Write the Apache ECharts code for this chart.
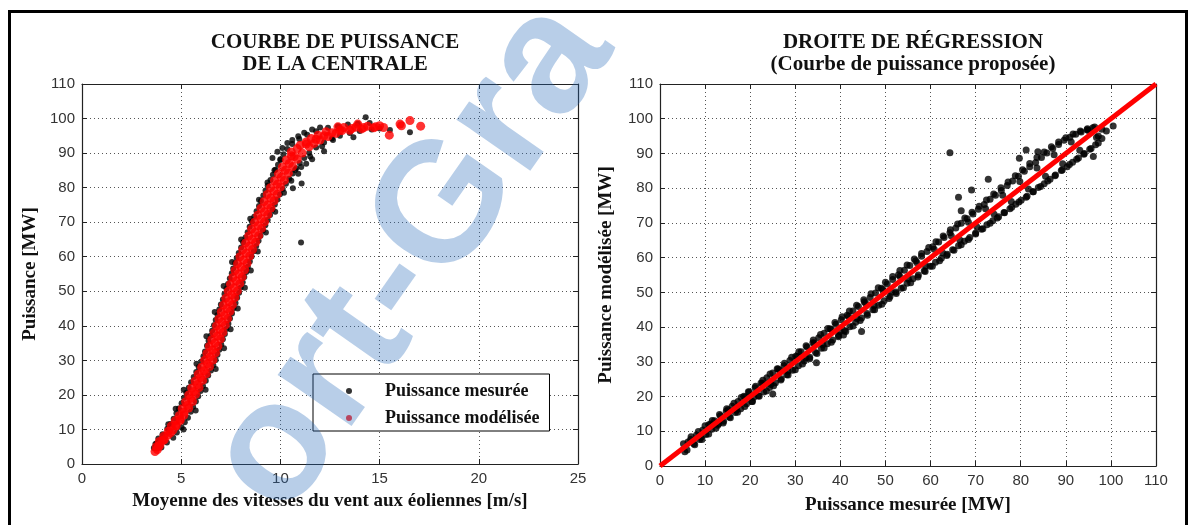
<!DOCTYPE html>
<html>
<head>
<meta charset="utf-8">
<script src="https://cdn.jsdelivr.net/npm/echarts@6/dist/echarts.min.js"></script>
<style>
html,body{margin:0;padding:0;background:#fff;}
#c{width:1191px;height:525px;}
</style>
</head>
<body>
<div id="c"></div>
<script>
// ---- tick labels ----
const speedTicks = [0, 5, 10, 15, 20, 25];
const powerTicks = [0, 10, 20, 30, 40, 50, 60, 70, 80, 90, 100, 110];

// ---- left chart: wind speed [m/s] vs measured power [MW] ----
const measuredCurve = [
  [3.76,6.0],[3.7,5.8],[3.62,4.6],[3.85,7.4],[4.06,8.6],[4.3,10.2],[4.46,11.6],[4.62,13.1],[4.76,14.7],[4.88,16.1],
  [5.02,17.6],[5.14,19.2],[5.26,20.6],[5.38,22.1],[5.5,23.7],[5.63,25.2],[5.76,26.6],[5.88,28.1],[6.02,29.7],[6.12,31.2],
  [6.2,32.6],[6.3,34.2],[6.38,35.7],[6.48,37.1],[6.56,38.6],[6.65,40.2],[6.74,41.7],[6.83,43.1],[6.92,44.7],[7.0,46.2],
  [7.1,47.6],[7.18,49.2],[7.28,50.7],[7.36,52.1],[7.45,53.7],[7.55,55.2],[7.62,56.6],[7.72,58.2],[7.8,59.6],[7.9,61.1],
  [8.02,62.7],[8.12,64.2],[8.24,65.6],[8.35,67.1],[8.45,68.7],[8.56,70.2],[8.68,71.6],[8.8,73.2],[8.92,74.7],[9.02,76.1],
  [9.14,77.7],[9.25,79.2],[9.36,80.6],[9.5,82.2],[9.62,83.7],[9.75,85.2],[9.88,86.6],[10.0,88.2],[10.15,89.7],[10.35,91.2],
  [10.6,92.6],[10.95,94.1],[11.35,95.3],[11.8,96.3],[12.4,97.3],[12.9,97.8],[13.4,98.3],[13.9,98.5],[14.5,98.7],[14.3,100.4],
  [9.6,88.6],[9.85,90.4],[10.1,91.5],[10.35,92.9],[10.6,93.8],[10.9,94.9],[11.2,95.9],[11.6,96.8],[12.0,97.4],
  [4.0,4.8],[4.28,6.2],[4.6,7.6],[4.78,9.1],[5.02,10.6],[5.18,12.1],[5.34,13.4],[5.48,15.1],[5.6,16.6],[5.74,18.1],
  [5.86,19.6],[5.98,21.1],[6.1,22.6],[6.24,24.1],[6.36,25.6],[6.5,27.1],[6.62,28.6],[6.74,30.1],[6.83,31.6],[6.92,33.1],
  [7.02,34.6],[7.1,36.1],[7.2,37.6],[7.28,39.1],[7.38,40.6],[7.46,42.1],[7.56,43.6],[7.64,45.1],[7.74,46.6],[7.82,48.1],
  [7.92,49.6],[8.0,51.1],[8.1,52.6],[8.18,54.1],[8.28,55.6],[8.36,57.1],[8.46,58.6],[8.55,60.1],[8.66,61.6],[8.78,63.1],
  [8.9,64.6],[9.0,66.1],[9.12,67.6],[9.24,69.1],[9.36,70.6],[9.48,72.1],[9.6,73.6],[9.72,75.1],[9.85,76.6],[9.98,78.1],
  [10.12,79.6],[10.28,81.1],[10.45,82.6],[10.62,84.1],[10.8,85.6],[10.98,87.1],[11.2,88.6],[11.45,90.1],[11.8,91.6],[12.2,93.1],
  [12.6,94.2],[13.0,95.0],[13.5,95.8],[14.0,96.4],[14.6,96.8],[13.68,94.6],
  [11.04,64.1],[10.63,79.8],[11.07,81.2],[10.74,85.1],[10.9,84.0],[11.3,86.9],[11.6,88.2],[12.2,90.5],[15.52,96.7],[16.53,96.0],
  [15.0,97.1],
  [5.13,21.5],[5.77,29.0],[6.27,37.0],[6.69,44.0],[7.14,51.5],[7.56,58.5],[8.02,65.0],[8.48,71.0],[8.92,76.5],[9.35,81.5],
  [9.7,85.0],[10.0,88.0],[4.35,11.5],[4.72,16.0],
  [5.12,10.0],[5.73,15.5],[6.23,21.5],[6.74,27.5],[7.16,33.5],[7.49,39.0],[7.85,45.0],[8.21,51.0],[8.51,56.0],[8.86,61.5],
  [9.27,67.0],[9.74,73.0],[10.18,78.5],[10.55,82.0],[11.05,86.0],[11.5,89.0],[12.1,92.0],[12.65,93.8]
];
// ---- left chart: wind speed [m/s] vs modelled power [MW] ----
const modelledCurve = [
  [3.68,3.6],[3.8,4.2],[3.75,5.0],[3.92,5.4],[3.9,6.5],[4.08,6.8],[4.12,8.0],[4.32,8.3],[4.35,9.5],[4.58,9.8],
  [4.5,11.0],[4.74,11.2],[4.7,12.5],[4.95,12.6],[4.9,14.0],[5.14,14.2],[5.05,16.0],[5.38,16.2],[5.22,18.0],[5.57,18.1],
  [5.38,20.0],[5.73,20.2],[5.53,22.0],[5.9,22.1],[5.7,24.0],[6.08,24.2],[5.86,26.0],[6.26,26.1],[6.03,28.0],[6.43,28.2],
  [6.18,30.0],[6.6,30.1],[6.3,32.0],[6.73,32.2],[6.42,34.0],[6.85,34.1],[6.54,36.0],[6.98,36.2],[6.66,38.0],[7.1,38.1],
  [6.78,40.0],[7.22,40.2],[6.9,42.0],[7.34,42.1],[7.02,44.0],[7.46,44.2],[7.13,46.0],[7.58,46.1],[7.25,48.0],[7.7,48.2],
  [7.37,50.0],[7.83,50.1],[7.48,52.0],[7.95,52.2],[7.6,54.0],[8.07,54.1],[7.72,56.0],[8.2,56.2],[7.84,58.0],[8.32,58.1],
  [7.96,60.0],[8.45,60.2],[8.1,62.0],[8.6,62.1],[8.25,64.0],[8.75,64.2],[8.4,66.0],[8.9,66.1],[8.55,68.0],[9.05,68.2],
  [8.7,70.0],[9.2,70.1],[8.86,72.0],[9.36,72.2],[9.02,74.0],[9.52,74.1],[9.18,76.0],[9.68,76.2],[9.34,78.0],[9.84,78.1],
  [9.5,80.0],[10.0,80.2],[9.7,82.0],[10.2,82.1],[9.9,84.0],[10.4,84.2],[10.1,86.0],[10.62,86.1],[10.3,88.0],[10.85,88.2],
  [10.55,89.2],[10.55,90.3],[11.1,90.0],[10.85,91.3],[11.0,92.3],[11.45,91.8],[11.3,93.2],[11.7,92.8],[11.55,94.2],[12.0,93.8],
  [11.9,95.2],[12.4,94.8],[12.3,96.2],[12.8,95.7],[13.0,96.6],[13.2,97.4],[13.5,96.6],[13.8,97.5],[14.1,97.0],[14.4,97.8],
  [14.7,97.3],[15.0,97.9],[15.2,97.4],[15.49,95.2],[16.03,98.4],[16.1,97.9],[16.53,99.4],[17.07,97.8],[13.9,98.4],[12.9,97.6],
  [3.85,5.0],[4.15,7.0],[4.46,9.0],[4.74,11.0],[4.95,13.0],[5.14,15.0],[5.31,17.0],[5.48,19.0],[5.64,21.0],[5.81,23.0],
  [5.98,25.0],[6.15,27.0],[6.32,29.0],[6.46,31.0],[6.58,33.0],[6.7,35.0],[6.82,37.0],[6.94,39.0],[7.06,41.0],[7.18,43.0],
  [7.3,45.0],[7.42,47.0],[7.54,49.0],[7.66,51.0],[7.78,53.0],[7.9,55.0],[8.02,57.0],[8.14,59.0],[8.27,61.0],[8.42,63.0],
  [8.57,65.0],[8.72,67.0],[8.87,69.0],[9.03,71.0],[9.19,73.0],[9.35,75.0],[9.51,77.0],[9.67,79.0],[9.85,81.0],[10.05,83.0],
  [10.25,85.0],[10.45,87.0],[10.7,89.0],[11.3,92.6],[11.8,94.0],[12.2,95.0],[12.6,95.9],[13.1,96.5],[13.6,97.1],[14.2,97.4],
  [14.8,97.6]
];

// ---- right chart: measured [MW] vs modelled [MW] ----
const regressionPoints = [
  [5.5,4.1],[6.2,6.9],[7.5,6.4],[8.1,8.9],[8.8,7.6],[9.5,10.4],[10.2,9.1],[10.8,11.9],[11.5,10.6],[12.1,13.0],
  [12.8,11.7],[13.4,14.5],[14.1,12.9],[14.7,15.8],[15.4,14.1],[16.0,17.2],[16.7,15.4],[17.3,18.6],[17.9,16.5],[18.6,20.1],
  [19.2,17.9],[19.8,21.3],[20.5,18.6],[21.1,22.5],[21.8,20.2],[22.4,23.9],[23.0,21.3],[23.7,25.4],[24.3,22.6],[25.0,20.7],
  [25.0,26.8],[25.6,24.0],[26.2,27.9],[26.9,25.1],[27.5,28.9],[28.1,26.3],[28.8,30.4],[29.4,27.6],[30.1,31.6],[30.7,28.9],
  [31.3,32.9],[32.0,30.2],[32.6,34.3],[33.2,31.3],[33.9,35.5],[34.7,29.7],[34.5,32.7],[35.2,36.9],[35.8,33.9],[36.4,38.2],
  [37.1,35.2],[37.7,39.5],[38.3,36.3],[39.0,40.8],[39.6,37.6],[40.7,37.7],[40.2,42.1],[40.9,39.0],[41.5,43.4],[42.1,40.1],
  [42.8,44.6],[43.4,41.4],[44.0,45.9],[44.7,38.7],[44.7,42.6],[45.3,47.3],[45.9,43.9],[46.6,48.5],[47.2,45.0],[47.8,49.8],
  [48.5,46.3],[49.1,51.2],[49.7,47.6],[50.4,52.4],[51.0,48.8],[51.6,53.7],[52.3,50.1],[52.9,55.1],[53.5,51.2],[54.2,56.4],
  [54.8,52.6],[55.4,57.7],[56.1,53.9],[56.7,59.1],[57.3,55.0],[58.0,60.4],[58.6,56.2],[59.2,61.8],[59.9,57.5],[60.5,63.1],
  [61.1,58.7],[61.8,64.5],[62.4,59.8],[63.0,65.8],[63.7,61.0],[64.3,90.2],[64.3,67.2],[64.9,62.3],[65.6,68.5],[66.2,77.4],
  [66.8,73.5],[66.2,63.4],[66.8,69.9],[67.5,64.7],[68.1,71.2],[69.1,79.5],[68.7,65.8],[69.4,72.6],[70.0,67.1],[70.6,73.9],
  [71.3,68.2],[71.9,75.3],[72.8,82.6],[72.5,69.5],[73.2,76.8],[73.8,70.6],[74.4,78.0],[75.1,71.8],[75.7,79.3],[76.3,73.0],
  [77.0,80.8],[77.6,74.1],[78.2,82.1],[78.9,75.4],[79.7,88.6],[79.5,83.4],[80.1,76.5],[81.2,91.0],[80.8,84.9],[81.4,77.7],
  [82.0,86.2],[82.7,79.0],[83.8,90.5],[83.3,87.4],[83.9,80.2],[84.6,88.8],[85.2,81.3],[85.8,90.1],[86.5,82.6],[87.1,91.4],
  [87.7,83.8],[88.4,92.6],[89.0,85.1],[89.6,93.8],[90.3,86.2],[90.9,94.7],[91.5,87.5],[92.2,95.5],[92.8,88.7],[93.4,96.2],
  [94.1,90.0],[94.7,96.8],[95.3,91.2],[96.1,89.1],[96.0,97.4],[96.6,92.5],[97.2,95.0],[98.0,94.3],[100.5,97.9],[99.0,96.5],
  [6.8,7.6],[9.1,8.3],[11.2,12.1],[13.0,12.2],[15.1,16.2],[17.0,16.1],[18.9,19.9],[20.8,19.8],[22.7,23.8],[24.6,23.5],
  [26.5,27.6],[28.4,27.3],[30.4,31.5],[32.3,31.1],[34.2,35.4],[36.1,34.9],[38.0,39.3],[39.9,38.7],[41.8,43.1],[43.7,42.5],
  [45.6,46.9],[47.5,46.2],[49.4,50.8],[51.3,50.0],[53.2,54.6],[55.1,53.8],[57.0,58.5],[58.9,57.6],[60.8,62.4],[62.7,61.3],
  [64.6,66.3],[66.5,65.1],[68.4,70.2],[70.3,68.8],[72.2,74.1],[74.1,72.5],[76.0,78.0],[77.9,76.2],[79.8,81.9],[81.7,79.8],
  [83.6,85.8],[85.5,83.4],[87.4,89.6],[89.3,87.0],[91.2,93.3],[93.1,90.9],[95.0,96.6],[96.8,94.6],
  [5.2,6.4],[6.0,4.6],[6.9,8.4],[7.7,6.1],[8.5,9.9],[9.3,7.6],[10.0,11.6],[10.8,9.2],[11.6,13.1],[12.4,10.9],
  [13.2,14.8],[14.0,12.4],[14.8,16.5],[15.6,13.9],[16.4,18.1],[17.2,15.5],[18.0,19.7],[18.8,17.1],[19.6,21.4],[20.4,18.6],
  [21.2,23.0],[22.0,20.1],[22.8,24.7],[23.6,21.6],[24.4,26.5],[25.2,23.1],[26.0,28.0],[26.8,24.8],[27.6,29.6],[28.4,26.2],
  [29.2,31.3],[30.0,27.7],[30.8,32.9],[31.6,29.4],[32.4,34.6],[33.2,30.9],[34.0,36.3],[34.8,32.4],[35.6,37.9],[36.4,34.0],
  [37.2,39.6],[38.0,35.6],[38.8,41.3],[39.6,37.2],[40.4,43.0],[41.2,38.7],[42.0,44.6],[42.8,40.3],[43.6,46.3],[44.4,41.9],
  [45.2,47.9],[46.0,43.4],[46.8,49.6],[47.6,45.0],[48.4,51.3],[49.2,46.6],[50.0,52.9],[50.8,48.2],[51.6,54.6],[52.4,49.7],
  [53.2,56.3],[54.0,51.3],[54.8,57.9],[55.6,52.8],[56.4,59.6],[57.2,54.4],[58.0,61.2],[58.8,56.0],[59.6,62.9],[60.4,57.5],
  [61.2,64.6],[62.0,59.1],[62.8,66.2],[63.6,60.6],[64.4,68.0],[65.2,62.1],[66.0,69.7],[66.8,63.7],[67.6,71.4],[68.4,65.2],
  [69.2,73.1],[70.0,66.8],[70.8,74.8],[71.6,68.3],[72.4,76.6],[73.2,69.9],[74.0,78.3],[74.8,71.4],[75.6,80.1],[76.4,72.9],
  [77.2,81.8],[78.0,74.5],[78.8,83.6],[79.6,76.0],[80.4,85.3],[81.2,77.4],[82.0,87.1],[82.8,79.0],[83.6,88.8],[84.4,80.5],
  [85.2,90.4],[86.0,82.1],[86.8,91.9],[87.6,83.6],[88.4,93.3],[89.2,85.2],[90.0,94.5],[90.8,86.8],[91.6,95.6],[92.4,88.3],
  [93.2,96.5],[94.0,89.8],[94.8,97.1],[95.6,91.4],[96.4,97.6],[97.2,93.0],[98.0,97.0]
];
const regressionLine = [[0, 0], [110, 110]];

const serif = '"Liberation Serif", "Times New Roman", serif';
const sans = '"Liberation Sans", Arial, sans-serif';

function valAxis(grid, ticks, pos, withLabel, name, nameGap) {
  const a = {
    type: 'value', gridIndex: grid, position: pos,
    min: ticks[0], max: ticks[ticks.length - 1], interval: ticks[1] - ticks[0],
    axisLine: { show: true, onZero: false, lineStyle: { color: '#222', width: 1.2 } },
    axisTick: { show: true, inside: true, length: 5, lineStyle: { color: '#222' } },
    axisLabel: { show: withLabel, color: '#333', fontFamily: sans, fontSize: 15, margin: 7 },
    splitLine: { show: withLabel, lineStyle: { color: '#555', type: [1, 3], width: 1 } }
  };
  if (name) {
    a.name = name; a.nameLocation = 'middle'; a.nameGap = nameGap;
    a.nameTextStyle = { fontFamily: serif, fontWeight: 'bold', fontSize: 19, color: '#111' };
  }
  return a;
}

const chart = echarts.init(document.getElementById('c'), null, { renderer: 'canvas' });
chart.setOption({
  animation: false,
  backgroundColor: '#fff',
  title: [
    { text: 'COURBE DE PUISSANCE\nDE LA CENTRALE', left: 330, top: 27, textAlign: 'center',
      textStyle: { fontFamily: serif, fontWeight: 'bold', fontSize: 21, lineHeight: 22, color: '#111' } },
    { text: 'DROITE DE RÉGRESSION\n(Courbe de puissance proposée)', left: 908, top: 27, textAlign: 'center',
      textStyle: { fontFamily: serif, fontWeight: 'bold', fontSize: 21, lineHeight: 22, color: '#111' } }
  ],
  grid: [
    { left: 82, right: 613, top: 84, bottom: 61 },
    { left: 660, right: 35, top: 84, bottom: 59 }
  ],
  xAxis: [
    valAxis(0, speedTicks, 'bottom', true, 'Moyenne des vitesses du vent aux éoliennes [m/s]', 28),
    valAxis(0, speedTicks, 'top', false),
    valAxis(1, powerTicks, 'bottom', true, 'Puissance mesurée [MW]', 30),
    valAxis(1, powerTicks, 'top', false)
  ],
  yAxis: [
    valAxis(0, powerTicks, 'left', true, 'Puissance [MW]', 42),
    valAxis(0, powerTicks, 'right', false),
    valAxis(1, powerTicks, 'left', true, 'Puissance modélisée [MW]', 44),
    valAxis(1, powerTicks, 'right', false)
  ],
  legend: {
    data: ['Puissance mesurée', 'Puissance modélisée'],
    orient: 'vertical', left: 313, top: 374,
    padding: [7, 10, 3, 33], itemGap: 7, itemWidth: 6, itemHeight: 6,
    icon: 'circle', borderColor: '#000', borderWidth: 1, backgroundColor: '#fff',
    textStyle: { fontFamily: serif, fontWeight: 'bold', fontSize: 18, lineHeight: 20, color: '#111', padding: [0, 0, 0, 28] }
  },
  series: [
    { name: 'Puissance mesurée', type: 'scatter', xAxisIndex: 0, yAxisIndex: 0, data: measuredCurve,
      symbol: 'circle', symbolSize: 6, itemStyle: { color: '#000' }, z: 2 },
    { name: 'Puissance modélisée', type: 'scatter', xAxisIndex: 0, yAxisIndex: 0, data: modelledCurve,
      symbol: 'circle', symbolSize: 9, itemStyle: { color: '#ff0000' }, z: 3 },
    { name: 'Points mesurés', type: 'scatter', xAxisIndex: 2, yAxisIndex: 2, data: regressionPoints,
      symbol: 'circle', symbolSize: 7, itemStyle: { color: '#000' }, z: 2 },
    { name: 'Droite de régression', type: 'line', xAxisIndex: 2, yAxisIndex: 2, data: regressionLine,
      showSymbol: false, lineStyle: { color: '#ff0000', width: 5 }, z: 3 }
  ],
  graphic: [
    { type: 'rect', shape: { x: 9.5, y: 11.5, width: 1177, height: 540 },
      style: { fill: 'none', stroke: '#000', lineWidth: 3 }, z: 50, silent: true },
    { type: 'text', x: 412, y: 258, rotation: 55 * Math.PI / 180, z: 100, silent: true,
      style: { text: 'ort-Gra', font: 'bold 170px "Liberation Sans", Arial, sans-serif',
               fill: 'rgba(40,105,185,0.33)', textAlign: 'center', textVerticalAlign: 'middle' } }
  ]
});
</script>
</body>
</html>
